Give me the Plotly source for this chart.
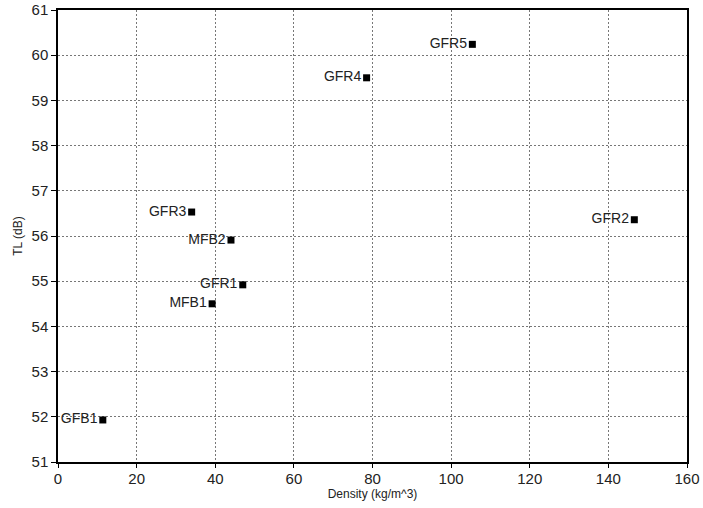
import plotly.graph_objects as go

labels = ["GFB1", "MFB1", "GFR1", "MFB2", "GFR3", "GFR2", "GFR4", "GFR5"]
density = [11.4, 39.2, 47.0, 44.0, 34.0, 146.6, 78.5, 105.4]
tl = [51.93, 54.5, 54.92, 55.91, 56.53, 56.36, 59.5, 60.24]

fig = go.Figure()
fig.add_trace(go.Scatter(
    x=density, y=tl, mode="markers+text", text=labels,
    textposition="middle left",
    textfont=dict(family="Liberation Sans, Arial", size=14, color="#222"),
    marker=dict(symbol="square", size=7, color="black"),
    cliponaxis=False, showlegend=False,
))

axis_common = dict(
    showline=True, linecolor="black", linewidth=1.5, mirror=True,
    ticks="outside", tickcolor="black",
    showgrid=True, gridcolor="#777", griddash="2px,2px", gridwidth=1,
    zeroline=False, automargin=False,
    tickfont=dict(family="Liberation Sans, Arial", size=15, color="#222"),
    title_font=dict(family="Liberation Sans, Arial", size=12, color="#222"),
)

fig.update_xaxes(range=[0, 160], dtick=20, title_text="Density (kg/m^3)",
                 ticklen=4, ticklabelstandoff=-2,
                 title_standoff=2, **axis_common)
fig.update_yaxes(range=[51, 61], dtick=1, title_text="TL (dB)",
                 ticklen=5, title_standoff=6, **axis_common)

fig.update_layout(
    width=703, height=508,
    margin=dict(l=58, r=16, t=10, b=46),
    plot_bgcolor="white", paper_bgcolor="white",
)

fig.write_html("out.html", config={"displayModeBar": False},
               post_script="document.body.style.margin='0px';")
